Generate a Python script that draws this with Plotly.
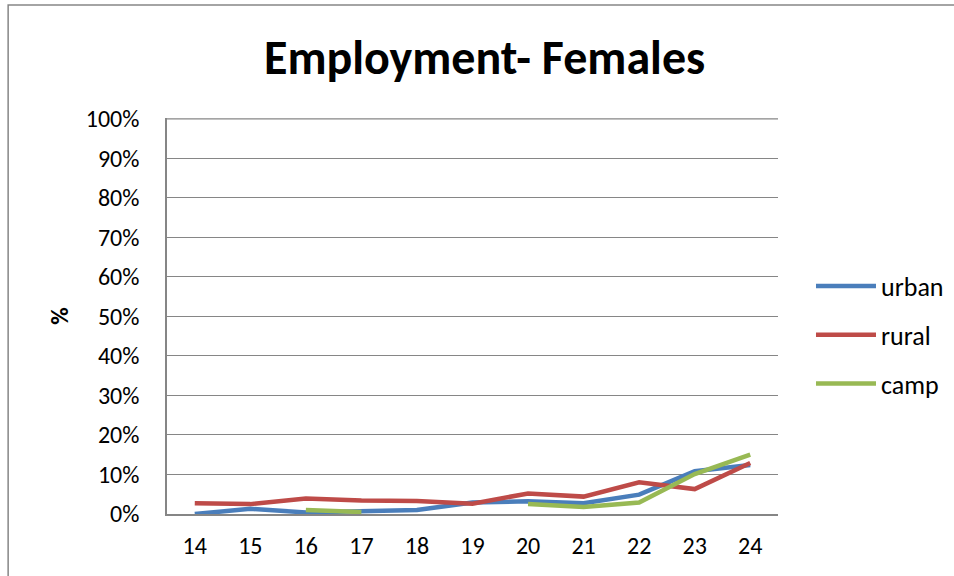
import plotly.graph_objects as go

ages = [14, 15, 16, 17, 18, 19, 20, 21, 22, 23, 24]
urban = [0.0, 1.3, 0.4, 0.7, 1.0, 2.9, 3.2, 2.7, 4.9, 10.8, 12.4]
rural = [2.7, 2.5, 3.9, 3.4, 3.3, 2.6, 5.2, 4.4, 8.0, 6.3, 12.9]
camp = [None, None, 1.0, 0.5, None, None, 2.5, 1.8, 2.9, 10.1, 15.0]

series = [("urban", urban, "#4a7ebb"), ("rural", rural, "#be4b48"), ("camp", camp, "#98b954")]

fig = go.Figure()
for name, vals, col in series:
    fig.add_trace(go.Scatter(x=ages, y=vals, name=name, mode="lines", legendgroup=name,
                             line=dict(color=col, width=4.5), connectgaps=False))

font = "Carlito, Lato, 'Liberation Sans', sans-serif"
fig.update_layout(
    width=954, height=576,
    margin=dict(l=167, r=176, t=118, b=62, autoexpand=False),
    paper_bgcolor="white", plot_bgcolor="white",
    font=dict(family=font, size=24, color="black"),
    title=dict(text="<b>Employment- Females</b>", x=0.508, xanchor="center",
               y=0.901, yanchor="middle", font=dict(size=48, family=font)),
    xaxis=dict(range=[13.5, 24.5], tickmode="array", tickvals=ages,
               ticktext=[str(a) for a in ages], showgrid=False, zeroline=False,
               showline=True, linecolor="#868686", linewidth=1.5, ticks="",
               ticklabelstandoff=9, tickfont=dict(size=24)),
    yaxis=dict(range=[0, 100.2], tickmode="array", tickvals=list(range(0, 101, 10)),
               ticktext=[f"{v}%" for v in range(0, 101, 10)],
               showgrid=True, gridcolor="#868686", gridwidth=1.3, zeroline=False,
               showline=True, linecolor="#868686", linewidth=1.5, ticks="",
               ticklabelstandoff=21,
               title=dict(text="<b>%</b>", standoff=10, font=dict(size=24)),
               tickfont=dict(size=24)),
    legend=dict(x=1.054, y=0.452, xanchor="left", yanchor="middle",
                font=dict(size=26), tracegroupgap=12, itemwidth=60,
                bgcolor="rgba(0,0,0,0)"),
    showlegend=True,
)
# top (100%) gridline, which plotly hides at the range edge
fig.add_shape(type="line", xref="paper", yref="y", x0=0, x1=1, y0=100, y1=100,
              line=dict(color="#868686", width=1.3), layer="below")
# outer chart border (right and bottom edges fall outside the page)
fig.add_shape(type="rect", xref="paper", yref="paper",
              x0=-0.26, x1=1.30, y0=-0.2, y1=1.2855,
              line=dict(color="#868686", width=1.5), layer="below")
fig.write_html("out.html")
